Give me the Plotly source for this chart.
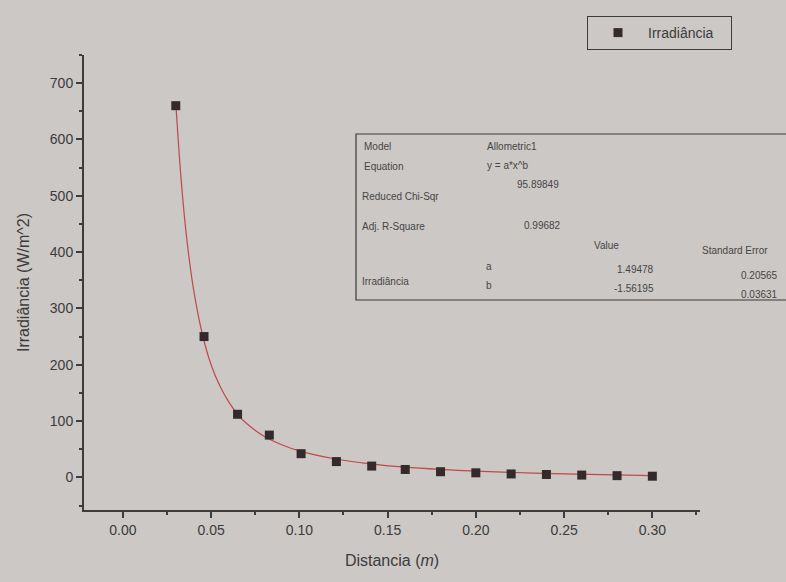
import plotly.graph_objects as go

# ---- data ----
distancia = [0.030, 0.046, 0.065, 0.083, 0.101, 0.121, 0.141, 0.160, 0.180, 0.200, 0.220, 0.240, 0.260, 0.280, 0.300]
irradiancia = [660, 250, 112, 75, 42, 28, 20, 14, 10, 8, 6, 5, 4, 3, 2]

fit_x = [0.030, 0.033, 0.036, 0.040, 0.045, 0.050, 0.055, 0.060, 0.065, 0.070, 0.080, 0.090, 0.100,
         0.120, 0.140, 0.160, 0.180, 0.200, 0.250, 0.300]
fit_y = [665, 530, 430, 335, 255, 200, 162, 134, 112, 96, 73, 58, 47, 33, 24, 18, 14, 11, 6, 3]

x_ticks = [0.00, 0.05, 0.10, 0.15, 0.20, 0.25, 0.30]
y_ticks = [0, 100, 200, 300, 400, 500, 600, 700]

table_rows = [
    ("Model", "Allometric1"),
    ("Equation", "y = a*x^b"),
    ("Reduced Chi-Sqr", "95.89849"),
    ("Adj. R-Square", "0.99682"),
]
param_names = ["a", "b"]
param_values = ["1.49478", "-1.56195"]
param_errors = ["0.20565", "0.03631"]

BG = "#cbc8c5"
INK = "#3d3b3b"

W, H = 786, 582
L, R, T, B = 84, 86, 55, 72
PW, PH = W - L - R, H - T - B


def px(x):
    return (x - L) / PW


def py(y):
    return (H - B - y) / PH


fig = go.Figure()
fig.add_trace(go.Scatter(
    x=fit_x, y=fit_y, mode="lines", line=dict(color="#c2484a", width=1.2, shape="spline"),
    showlegend=False, hoverinfo="skip"))
fig.add_trace(go.Scatter(
    x=distancia, y=irradiancia, mode="markers", name="Irradiância   ",
    marker=dict(symbol="square", size=9, color="#352a2b")))

font_axis = dict(family="Liberation Sans, Arial, sans-serif", size=14, color=INK)

fig.update_layout(
    width=W, height=H,
    margin=dict(l=L, r=R, t=T, b=B),
    paper_bgcolor=BG, plot_bgcolor=BG,
    font=dict(family="Liberation Sans, Arial, sans-serif", color=INK),
    legend=dict(x=px(587), y=py(16), xanchor="left", yanchor="top",
                bgcolor="rgba(0,0,0,0)", bordercolor=INK, borderwidth=1,
                itemwidth=50, font=dict(size=14, color=INK)),
    xaxis=dict(range=[-0.022, 0.327], tickvals=x_ticks,
               ticktext=[f"{v:.2f}" for v in x_ticks],
               showgrid=False, zeroline=False, showline=True, linecolor=INK, linewidth=2,
               ticks="outside", ticklen=6, tickwidth=1.5, tickcolor=INK, tickfont=font_axis,
               minor=dict(dtick=0.025, tick0=0, ticks="outside", ticklen=3, tickcolor=INK),
               title=dict(text="Distancia (<i>m</i>)", font=dict(size=16, color=INK), standoff=18)),
    yaxis=dict(range=[-58, 750], tickvals=y_ticks,
               showgrid=False, zeroline=False, showline=True, linecolor=INK, linewidth=2,
               ticks="outside", ticklen=6, tickwidth=1.5, tickcolor=INK, tickfont=font_axis,
               minor=dict(dtick=50, tick0=0, ticks="outside", ticklen=3, tickcolor=INK),
               title=dict(text="Irradiância (W/m^2)", font=dict(size=16, color=INK), standoff=16)),
)

# results table box
fig.add_shape(type="rect", xref="paper", yref="paper",
              x0=px(356), x1=px(790), y0=py(300), y1=py(134),
              line=dict(color=INK, width=1.2), fillcolor="rgba(0,0,0,0)")

tf = dict(size=10, color="#474545", family="Liberation Sans, Arial, sans-serif")


def txt(x, y, s, anchor="left"):
    fig.add_annotation(xref="paper", yref="paper", x=px(x), y=py(y), text=s,
                       showarrow=False, xanchor=anchor, yanchor="middle", font=tf)


label_pos = [(362, 146), (362, 166), (360, 196), (360, 226)]
value_pos = [(485, 146), (485, 165), (515, 184), (522, 225)]
for (lab, val), (lx, ly), (vx, vy) in zip(table_rows, label_pos, value_pos):
    txt(lx, ly, lab)
    txt(vx, vy, val)

txt(592, 246, "Value")
txt(700, 250, "Standard Error")
txt(360, 281, "Irradiância")
for i, (n, v, e) in enumerate(zip(param_names, param_values, param_errors)):
    txt(484, 266 + 19 * i, n)
    txt(656, 269 + 19 * i, v, anchor="right")
    txt(780, 275 + 19 * i, e, anchor="right")

fig.write_html("out.html")
